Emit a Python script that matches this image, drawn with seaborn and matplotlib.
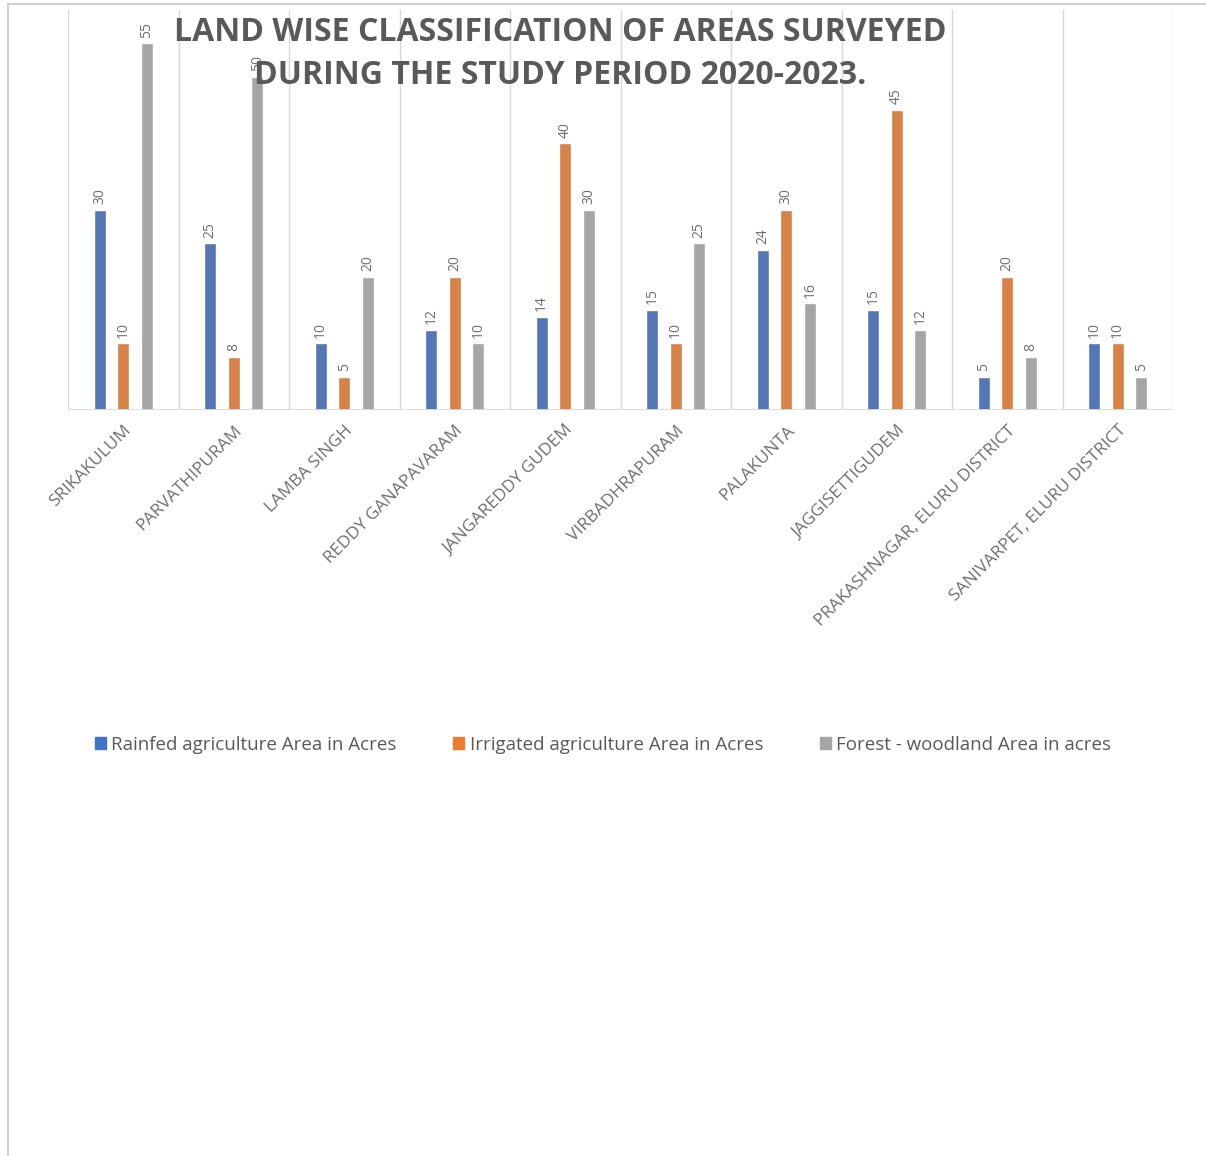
import matplotlib
matplotlib.use("Agg")
import matplotlib.pyplot as plt
from matplotlib.lines import Line2D
import pandas as pd
import seaborn as sns

places = [
    "SRIKAKULUM", "PARVATHIPURAM", "LAMBA SINGH", "REDDY GANAPAVARAM",
    "JANGAREDDY GUDEM", "VIRBADHRAPURAM", "PALAKUNTA", "JAGGISETTIGUDEM",
    "PRAKASHNAGAR, ELURU DISTRICT", "SANIVARPET, ELURU DISTRICT",
]
rainfed = [30, 25, 10, 12, 14, 15, 24, 15, 5, 10]
irrigated = [10, 8, 5, 20, 40, 10, 30, 45, 20, 10]
forest = [55, 50, 20, 10, 30, 25, 16, 12, 8, 5]
series_names = [
    "Rainfed agriculture Area in Acres",
    "Irrigated agriculture Area in Acres",
    "Forest - woodland Area in acres",
]
colors = ["#4472C4", "#ED7D31", "#A5A5A5"]

rows = []
for name, vals in zip(series_names, [rainfed, irrigated, forest]):
    for p, v in zip(places, vals):
        rows.append({"place": p, "series": name, "acres": v})
df = pd.DataFrame(rows)

sns.set_style("white")
plt.rcParams["font.family"] = ["Open Sans", "DejaVu Sans"]
text_grey = "#595959"
label_grey = "#6E6E6E"

fig = plt.figure(figsize=(12.06, 11.56), dpi=100)
W, H = 1206, 1156
ax = fig.add_axes([68 / W, 1 - 410 / H, (1173 - 68) / W, 400 / H])

sns.barplot(data=df, x="place", y="acres", hue="series", palette=colors,
            width=0.64, gap=0.48, ax=ax, legend=False, errorbar=None)

ax.set_ylim(0, 60)
ax.set_xlim(-0.5, len(places) - 0.5)
for s in ax.spines.values():
    s.set_visible(False)
ax.set_yticks([])
ax.set_xlabel("")
ax.set_ylabel("")

# category separators
for b in range(len(places) + 1):
    ax.axvline(b - 0.5, color="#D9D9D9", lw=1, zorder=0)
ax.axhline(0, color="#D9D9D9", lw=2, zorder=3)

for cont in ax.containers:
    ax.bar_label(cont, rotation=90, padding=4, fontsize=10, color=label_grey)

ax.set_xticks(range(len(places)))
ax.set_xticklabels(places, rotation=45, ha="right", rotation_mode="anchor",
                   fontsize=12.5, color=label_grey)
ax.tick_params(axis="x", length=0, pad=9)

fig.text(560 / W, 1 - 54 / H,
         "LAND WISE CLASSIFICATION OF AREAS SURVEYED\nDURING THE STUDY PERIOD 2020-2023.",
         ha="center", va="center", fontsize=23, fontweight="bold",
         color=text_grey, linespacing=1.37, zorder=10)

handles = [plt.Rectangle((0, 0), 1, 1, color=c) for c in colors]
fig.legend(handles, series_names, loc="center", bbox_to_anchor=(0.5, 1 - 745 / H),
           ncol=3, frameon=False, fontsize=13.5, labelcolor=text_grey,
           handlelength=0.6, handleheight=0.6, handletextpad=0.3, columnspacing=3.0)

# chart frame edges
fig.add_artist(Line2D([8 / W, 8 / W], [0, 1 - 4 / H], color="#D0D0D0", lw=1.5))
fig.add_artist(Line2D([8 / W, 1], [1 - 4 / H, 1 - 4 / H], color="#D0D0D0", lw=1.5))

fig.savefig("out.png", dpi=100, facecolor="white")
